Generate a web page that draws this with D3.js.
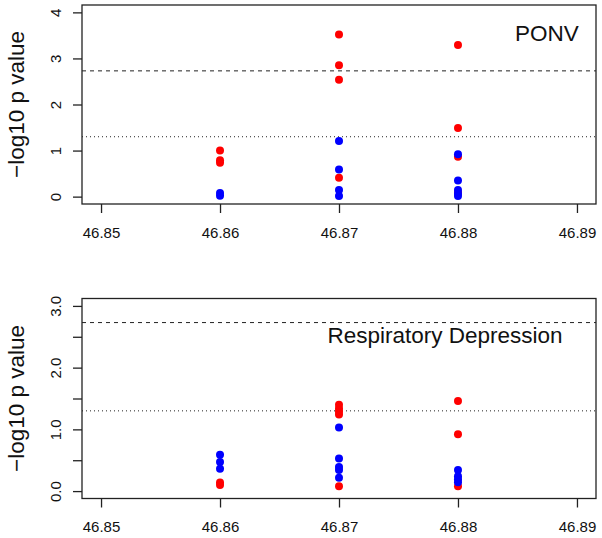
<!DOCTYPE html>
<html>
<head>
<meta charset="utf-8">
<script src="https://cdn.jsdelivr.net/npm/d3@7"></script>
<style>
  html, body { margin: 0; padding: 0; background: #fff; }
  svg { display: block; }
  text { font-family: "Liberation Sans", Arial, sans-serif; fill: #111; }
</style>
</head>
<body>
<svg id="chart" width="602" height="538"></svg>
<script>
// ---------- data ----------
const xTicks = [46.85, 46.86, 46.87, 46.88, 46.89];
const ponvYTicks = [0, 1, 2, 3, 4];
const ponvYLabels = ["0", "1", "2", "3", "4"];
const respYTicks = [0, 0.5, 1, 1.5, 2, 2.5, 3];
const respYLabels = ["0.0", "", "1.0", "", "2.0", "", "3.0"];
const bonferroni = 2.73;   // dashed line
const nominal = 1.30;      // dotted line

// [position, -log10 p]
const ponvRed = [[46.86, 1.00], [46.86, 0.79], [46.86, 0.735],
                 [46.87, 3.52], [46.87, 2.85], [46.87, 2.54], [46.87, 0.41],
                 [46.88, 3.29], [46.88, 1.49], [46.88, 0.865], [46.88, 0.09]];
const ponvBlue = [[46.86, 0.08], [46.86, 0.02],
                  [46.87, 1.21], [46.87, 0.59], [46.87, 0.145], [46.87, 0.015],
                  [46.88, 0.92], [46.88, 0.35], [46.88, 0.145], [46.88, 0.065], [46.88, 0.015]];
const respRed = [[46.86, 0.14], [46.86, 0.10],
                 [46.87, 1.40], [46.87, 1.34], [46.87, 1.29], [46.87, 1.24], [46.87, 0.08],
                 [46.88, 1.46], [46.88, 0.92], [46.88, 0.08]];
const respBlue = [[46.86, 0.59], [46.86, 0.47], [46.86, 0.36],
                  [46.87, 1.03], [46.87, 0.53], [46.87, 0.39], [46.87, 0.34], [46.87, 0.215],
                  [46.88, 0.34], [46.88, 0.24], [46.88, 0.19], [46.88, 0.145]];

const panels = [
  { title: "PONV", red: ponvRed, blue: ponvBlue, yTicks: ponvYTicks, yLabels: ponvYLabels,
    yDomain: [-0.16, 4.16], top: 5, bottom: 204, titleX: 547, titleY: 41, titleAnchor: "middle" },
  { title: "Respiratory Depression", red: respRed, blue: respBlue, yTicks: respYTicks, yLabels: respYLabels,
    yDomain: [-0.12, 3.12], top: 298.5, bottom: 498.5, titleX: 445, titleY: 343, titleAnchor: "middle" }
];

const svg = d3.select("#chart");
const left = 82, right = 596;
const x = d3.scaleLinear().domain([46.8484, 46.8916]).range([left, right]);

panels.forEach(p => {
  const y = d3.scaleLinear().domain(p.yDomain).range([p.bottom, p.top]);
  const g = svg.append("g");

  // threshold lines
  g.append("line").attr("x1", left).attr("x2", right)
    .attr("y1", y(bonferroni)).attr("y2", y(bonferroni))
    .attr("stroke", "#222").attr("stroke-width", 1).attr("stroke-dasharray", "4,4");
  g.append("line").attr("x1", left).attr("x2", right)
    .attr("y1", y(nominal)).attr("y2", y(nominal))
    .attr("stroke", "#222").attr("stroke-width", 1).attr("stroke-dasharray", "1,3");

  // points
  g.selectAll("circle.red").data(p.red).join("circle").attr("class", "red")
    .attr("cx", d => x(d[0])).attr("cy", d => y(d[1])).attr("r", 4).attr("fill", "#ff0000");
  g.selectAll("circle.blue").data(p.blue).join("circle").attr("class", "blue")
    .attr("cx", d => x(d[0])).attr("cy", d => y(d[1])).attr("r", 4).attr("fill", "#0000ff");

  // box
  g.append("rect").attr("x", left).attr("y", p.top)
    .attr("width", right - left).attr("height", p.bottom - p.top)
    .attr("fill", "none").attr("stroke", "#222").attr("stroke-width", 1.3);

  // x axis
  const xa = g.append("g").attr("transform", `translate(0,${p.bottom})`)
    .call(d3.axisBottom(x).tickValues(xTicks).tickSize(9).tickPadding(14).tickFormat(d3.format(".2f")));
  xa.select(".domain").remove();
  xa.selectAll("line").attr("stroke", "#222").attr("stroke-width", 1.3);
  xa.selectAll("text").attr("font-size", "15px").attr("fill", "#222")
    .attr("font-family", "Liberation Sans, Arial, sans-serif");

  // y axis
  const ya = g.append("g").attr("transform", `translate(${left},0)`)
    .call(d3.axisLeft(y).tickValues(p.yTicks).tickSize(9).tickFormat((d, i) => p.yLabels[i]));
  ya.select(".domain").remove();
  ya.selectAll("line").attr("stroke", "#222").attr("stroke-width", 1.3);
  ya.selectAll("text")
    .attr("font-size", "15px").attr("fill", "#222")
    .attr("font-family", "Liberation Sans, Arial, sans-serif")
    .attr("text-anchor", "middle").attr("x", null).attr("dy", null)
    .attr("transform", "translate(-21,0) rotate(-90)");

  // y label
  g.append("text")
    .attr("transform", `translate(24,${(p.top + p.bottom) / 2}) rotate(-90)`)
    .attr("text-anchor", "middle").attr("font-size", "22.5px")
    .text("\u2212log10 p value");

  // title
  g.append("text").attr("x", p.titleX).attr("y", p.titleY)
    .attr("text-anchor", p.titleAnchor).attr("font-size", "22.5px").text(p.title);
});
</script>
</body>
</html>
